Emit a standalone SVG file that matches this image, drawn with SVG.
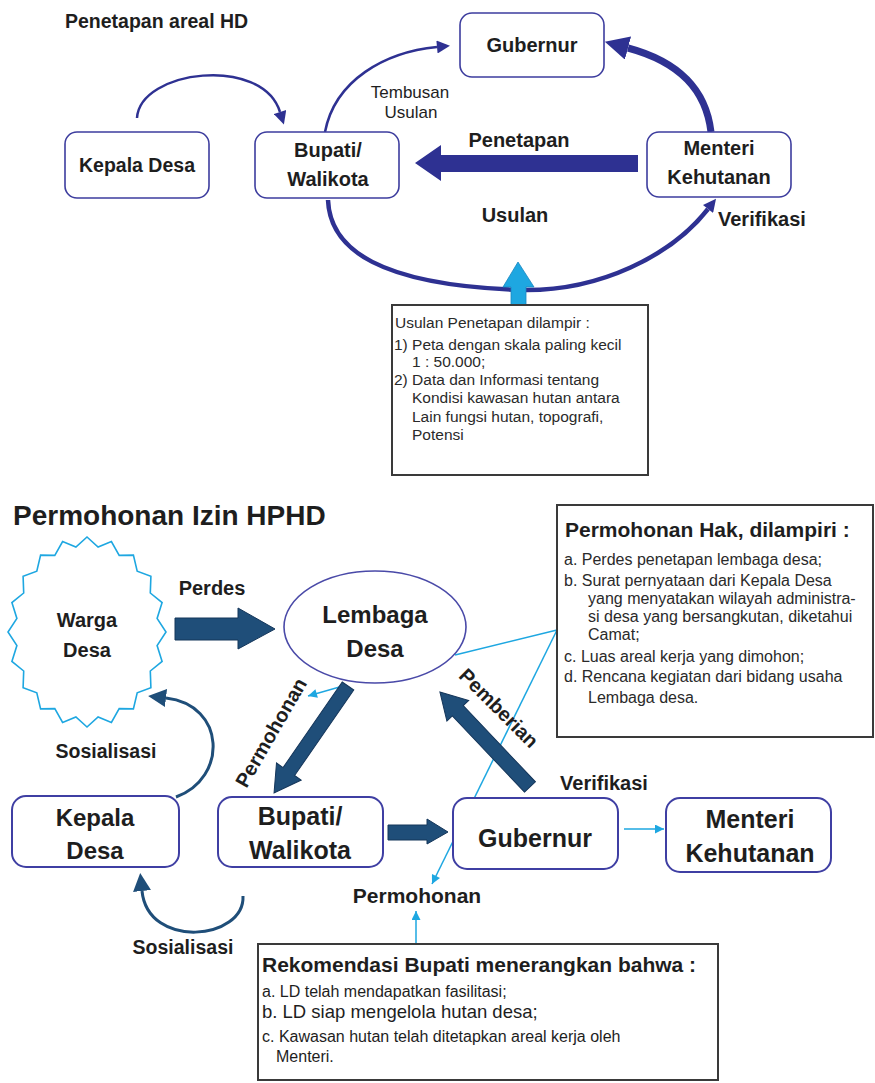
<svg xmlns="http://www.w3.org/2000/svg" width="875" height="1083" viewBox="0 0 875 1083">
  <style>
    text { font-family: "Liberation Sans", Arial, sans-serif; fill: #1e1e1e; }
    .b { font-weight: bold; }
    .mid { text-anchor: middle; }
    .boxT { fill: #ffffff; stroke: #3d3d9e; stroke-width: 1.6; }
    .boxB { fill: #ffffff; stroke: #3f3fa3; stroke-width: 2; }
    .note { fill: #ffffff; stroke: #3a3a3a; stroke-width: 2; }
    .arcT { fill: none; stroke: #2e3192; }
    .arcN { fill: none; stroke: #1f4e79; stroke-width: 3; }
    .navy { fill: #1f4e79; stroke: #15365a; stroke-width: 1; }
    .cyan { fill: none; stroke: #1ea7e1; stroke-width: 1.5; }
    .small { font-size: 15.5px; fill: #2a2a2a; }
    .list { font-size: 16px; fill: #2a2a2a; }
  </style>
  <defs>
    <marker id="headT" viewBox="0 0 10 10" refX="0" refY="5" markerUnits="userSpaceOnUse" markerWidth="14" markerHeight="13" orient="auto">
      <path d="M0,0 L10,5 L0,10 z" fill="#2e3192"/>
    </marker>
    <marker id="headTBig" viewBox="0 0 10 10" refX="0" refY="5" markerUnits="userSpaceOnUse" markerWidth="24" markerHeight="24" orient="auto">
      <path d="M0,0 L10,5 L0,10 z" fill="#2e3192"/>
    </marker>
    <marker id="headN" viewBox="0 0 10 10" refX="0" refY="5" markerUnits="userSpaceOnUse" markerWidth="18" markerHeight="22" orient="auto">
      <path d="M0,0 L10,5 L0,10 z" fill="#1f4e79"/>
    </marker>
    <marker id="headC" viewBox="0 0 10 10" refX="10" refY="5" markerUnits="userSpaceOnUse" markerWidth="10" markerHeight="9" orient="auto">
      <path d="M0,0 L10,5 L0,10 z" fill="#1ea7e1"/>
    </marker>
  </defs>

  <!-- ===== Penetapan areal HD ===== -->
  <text x="65" y="28" class="b" font-size="19.5">Penetapan areal HD</text>

  <g id="connectors-top">
    <!-- Kepala Desa to Bupati -->
    <path class="arcT" stroke-width="2.5" d="M137,118 C140,70 262,55 280,112" marker-end="url(#headT)"/>
    <!-- Tembusan Usulan to Gubernur -->
    <path class="arcT" stroke-width="2.5" d="M325,132 C335,80 385,52 437,47" marker-end="url(#headT)"/>
    <!-- Menteri to Gubernur -->
    <path class="arcT" stroke-width="7" d="M711,132 C706,90 680,62 628,48" marker-end="url(#headTBig)"/>
    <!-- Usulan: Bupati to Menteri -->
    <path class="arcT" stroke-width="4.5" d="M328,200 C330,250 380,285 520,290 C600,292 672,255 708,209" marker-end="url(#headT)"/>
    <!-- Penetapan: Menteri to Bupati -->
    <polygon fill="#2e3192" points="415,163 441,145 441,155 638,155 638,172 441,172 441,181"/>
    <!-- attachment arrow up to the Usulan arc -->
    <polygon fill="#1ea7e1" stroke="#1a86c0" stroke-width="0.8" points="518,262 534,287 526,287 526,306 511,306 511,287 503,287"/>
  </g>

  <g id="labels-top">
    <text x="410" y="98" class="mid" font-size="17">Tembusan</text>
    <text x="411" y="118" class="mid" font-size="17">Usulan</text>
    <text x="519" y="147" class="b mid" font-size="20">Penetapan</text>
    <text x="515" y="222" class="b mid" font-size="20">Usulan</text>
    <text x="718" y="226" class="b" font-size="20">Verifikasi</text>
  </g>

  <g id="kepala-desa-top">
    <rect class="boxT" x="65" y="132" width="144" height="66" rx="12"/>
    <text x="137" y="172" class="b mid" font-size="19.5">Kepala Desa</text>
  </g>
  <g id="bupati-top">
    <rect class="boxT" x="255" y="132" width="144" height="66" rx="12"/>
    <text x="328" y="157" class="b mid" font-size="20">Bupati/</text>
    <text x="328" y="186" class="b mid" font-size="20">Walikota</text>
  </g>
  <g id="gubernur-top">
    <rect class="boxT" x="460" y="13" width="144" height="64" rx="12"/>
    <text x="532" y="52" class="b mid" font-size="20">Gubernur</text>
  </g>
  <g id="menteri-top">
    <rect class="boxT" x="647" y="132" width="144" height="65" rx="12"/>
    <text x="719" y="155" class="b mid" font-size="20">Menteri</text>
    <text x="719" y="184" class="b mid" font-size="20">Kehutanan</text>
  </g>

  <g id="usulan-lampiran">
    <rect class="note" x="392" y="305" width="256" height="170"/>
    <text class="small" x="395" y="328">Usulan Penetapan dilampir  :</text>
    <text class="small" x="394" y="350">1) Peta dengan skala paling kecil</text>
    <text class="small" x="412" y="367">1 : 50.000;</text>
    <text class="small" x="394" y="385">2) Data dan Informasi tentang</text>
    <text class="small" x="412" y="403">Kondisi kawasan hutan antara</text>
    <text class="small" x="412" y="422">Lain fungsi hutan, topografi,</text>
    <text class="small" x="412" y="440">Potensi</text>
  </g>

  <!-- ===== Permohonan Izin HPHD ===== -->
  <text x="13" y="525" class="b" font-size="28">Permohonan Izin HPHD</text>

  <g id="connectors-bottom">
    <!-- thin cyan leaders from the attachment list -->
    <line class="cyan" x1="557" y1="630" x2="455" y2="655"/>
    <line class="cyan" x1="557" y1="630" x2="432" y2="884" marker-end="url(#headC)"/>
    <line class="cyan" x1="343" y1="686" x2="308" y2="696" marker-end="url(#headC)"/>
    <line class="cyan" x1="624" y1="829" x2="664" y2="829" marker-end="url(#headC)"/>
    <line class="cyan" x1="416" y1="944" x2="416" y2="911" marker-end="url(#headC)"/>
    <!-- Sosialisasi arcs -->
    <path class="arcN" d="M176,797 C228,778 226,705 166,698" marker-end="url(#headN)"/>
    <path class="arcN" d="M243,896 C245,940 148,950 142,891" marker-end="url(#headN)"/>
    <!-- block arrows -->
    <polygon class="navy" points="175,618 238,618 238,608 275,629 238,649 238,640 175,640"/>
    <polygon class="navy" transform="translate(348,686) rotate(124.67)" points="0,-7 104,-7 104,-15 130,0 104,15 104,7 0,7"/>
    <polygon class="navy" transform="translate(530,787) rotate(-133.45)" points="0,-7.5 105,-7.5 105,-15 131,0 105,15 105,7.5 0,7.5"/>
    <polygon class="navy" points="388,825 427,825 427,819 448,832 427,844 427,840 388,840"/>
  </g>

  <g id="labels-bottom">
    <text x="212" y="595" class="b mid" font-size="20">Perdes</text>
    <text x="106" y="758" class="b mid" font-size="19.5">Sosialisasi</text>
    <text x="183" y="954" class="b mid" font-size="19.5">Sosialisasi</text>
    <text x="604" y="790" class="b mid" font-size="20">Verifikasi</text>
    <text x="417" y="903" class="b mid" font-size="21">Permohonan</text>
    <text class="b mid" font-size="20" transform="translate(277,736) rotate(-60)">Permohonan</text>
    <text class="b mid" font-size="20" transform="translate(494,713) rotate(45)">Pemberian</text>
  </g>

  <g id="warga-desa">
    <polygon fill="#ffffff" stroke="#1ea7e1" stroke-width="1.6" points="87,537 98.1,547.1 111.4,541.6 119.2,555.4 133.4,555.1 137.2,571.2 150.9,576.2 150.3,593 162.1,602.6 157.1,618.5 166,632 157.1,645.5 162.1,661.4 150.3,671 150.9,687.8 137.2,692.8 133.4,708.9 119.2,708.6 111.4,722.4 98.1,716.9 87,727 75.9,716.9 62.6,722.4 54.8,708.6 40.6,708.9 36.8,692.8 23.1,687.8 23.7,671 11.9,661.4 16.9,645.5 8,632 16.9,618.5 11.9,602.6 23.7,593 23.1,576.2 36.8,571.2 40.6,555.1 54.8,555.4 62.6,541.6 75.9,547.1"/>
    <text x="87" y="627" class="b mid" font-size="20">Warga</text>
    <text x="87" y="657" class="b mid" font-size="20">Desa</text>
  </g>

  <g id="lembaga-desa">
    <ellipse cx="375" cy="627" rx="91" ry="56" fill="#ffffff" stroke="#4a4aa8" stroke-width="1.6"/>
    <text x="375" y="623" class="b mid" font-size="24">Lembaga</text>
    <text x="375" y="657" class="b mid" font-size="24">Desa</text>
  </g>

  <g id="permohonan-hak">
    <rect class="note" x="557" y="505" width="316" height="232"/>
    <text x="565" y="537" class="b" font-size="21">Permohonan Hak, dilampiri :</text>
    <text class="list" x="564" y="565">a. Perdes penetapan lembaga desa;</text>
    <text class="list" x="564" y="586">b. Surat pernyataan dari Kepala Desa</text>
    <text class="list" x="588" y="604">yang menyatakan wilayah administra-</text>
    <text class="list" x="588" y="622">si desa yang bersangkutan, diketahui</text>
    <text class="list" x="588" y="640">Camat;</text>
    <text class="list" x="564" y="662">c. Luas areal kerja yang dimohon;</text>
    <text class="list" x="564" y="682">d. Rencana kegiatan dari bidang usaha</text>
    <text class="list" x="588" y="703">Lembaga desa.</text>
  </g>

  <g id="kepala-desa">
    <rect class="boxB" x="12" y="796" width="167" height="71" rx="14"/>
    <text x="95" y="826" class="b mid" font-size="24">Kepala</text>
    <text x="95" y="859" class="b mid" font-size="24">Desa</text>
  </g>
  <g id="bupati">
    <rect class="boxB" x="218" y="797" width="165" height="70" rx="14"/>
    <text x="300" y="825" class="b mid" font-size="25">Bupati/</text>
    <text x="300" y="859" class="b mid" font-size="25">Walikota</text>
  </g>
  <g id="gubernur">
    <rect class="boxB" x="453" y="798" width="165" height="71" rx="14"/>
    <text x="535" y="847" class="b mid" font-size="25">Gubernur</text>
  </g>
  <g id="menteri">
    <rect class="boxB" x="666" y="798" width="165" height="74" rx="14"/>
    <text x="750" y="828" class="b mid" font-size="25">Menteri</text>
    <text x="750" y="862" class="b mid" font-size="25">Kehutanan</text>
  </g>

  <g id="rekomendasi">
    <rect class="note" x="258" y="944" width="460" height="136"/>
    <text x="262" y="972" class="b" font-size="21">Rekomendasi Bupati menerangkan bahwa :</text>
    <text x="262" y="997" font-size="16" fill="#2a2a2a">a. LD telah mendapatkan fasilitasi;</text>
    <text x="262" y="1018" font-size="18.5" fill="#2a2a2a">b. LD siap mengelola hutan desa;</text>
    <text x="262" y="1042" font-size="16" fill="#2a2a2a">c. Kawasan hutan telah ditetapkan areal kerja oleh</text>
    <text x="276" y="1062" font-size="16" fill="#2a2a2a">Menteri.</text>
  </g>
</svg>
